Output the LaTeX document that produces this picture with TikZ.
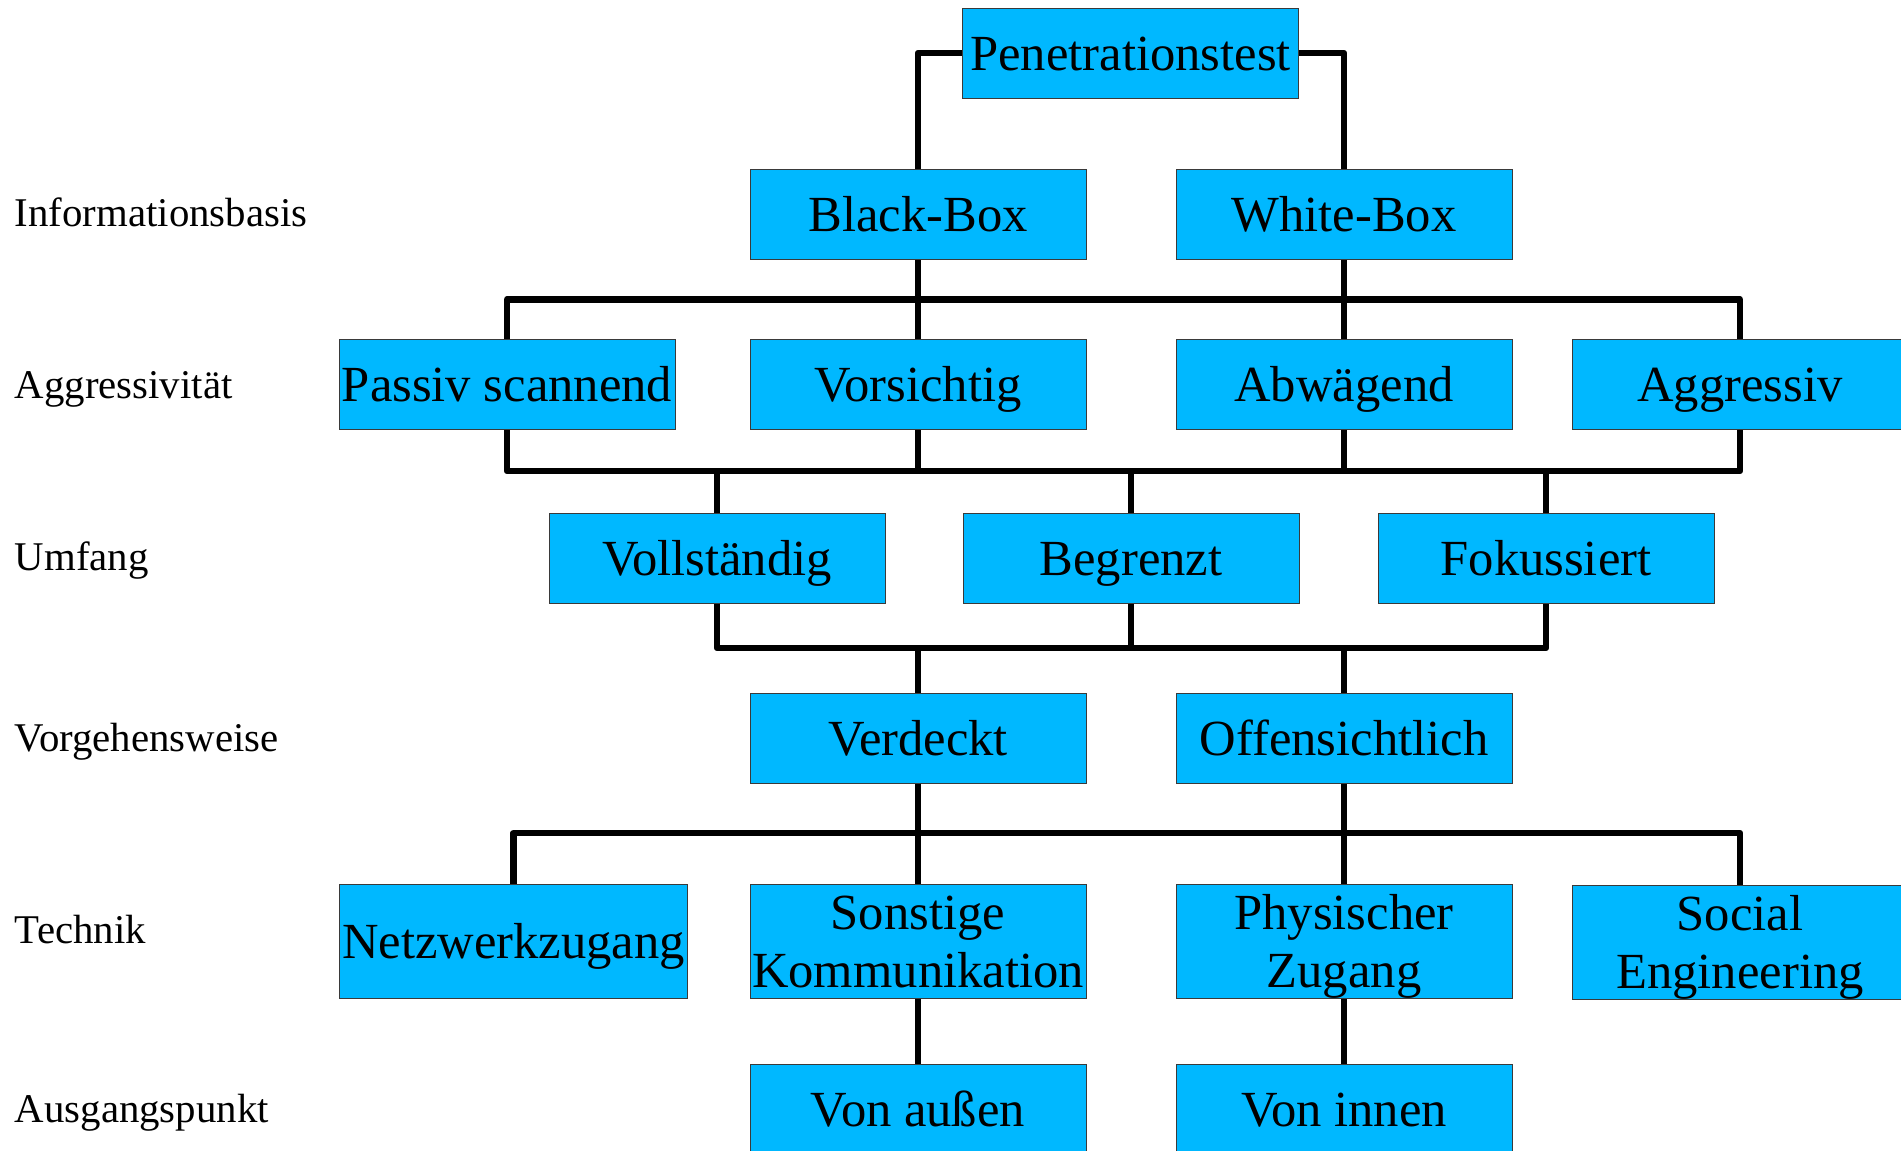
\documentclass[tikz,border=0pt]{standalone}
\usepackage{fontspec}
\setmainfont{Liberation Serif}
\usetikzlibrary{positioning}
\definecolor{boxfill}{HTML}{00B8FF}
\definecolor{boxline}{HTML}{3A3A3A}
\newcommand\twoline[2]{\rule{0pt}{22.3pt}#1\\#2\rule[-5pt]{0pt}{5pt}}
\tikzset{
  link/.style={draw=black,line width=3.25pt,line join=round},
  catbox/.style={draw=boxline,fill=boxfill,line width=0.5pt,inner sep=0pt,minimum width=168pt,minimum height=45pt,text height=22.3pt,text depth=5pt,font=\fontsize{25.3}{28.7}\selectfont,align=center},
  tallbox/.style={catbox,minimum height=57pt,text height={},text depth={}},
  rowlabel/.style={anchor=base west,inner sep=0pt,font=\fontsize{20.4}{24}\selectfont},
}

\begin{document}
\begin{tikzpicture}[x=0.5pt,y=-0.5pt]
\useasboundingbox (0,0) rectangle (1901,1151);

% row labels -------------------------------------------------------------------
\node[rowlabel] (lbinfo) at (14.5,226.5) {Informationsbasis};
\node[rowlabel] (lbaggr) at (14.5,398) {Aggressivität};
\node[rowlabel] (lbumf) at (14.5,570) {Umfang};
\node[rowlabel] (lbvorg) at (14.5,751) {Vorgehensweise};
\node[rowlabel] (lbtech) at (14.5,943) {Technik};
\node[rowlabel] (lbausg) at (14.5,1122) {Ausgangspunkt};

% boxes ------------------------------------------------------------------------
\node[catbox] (pen) at (1130.5,53) {Penetrationstest};

\node[catbox] (blackbox) at (918,214.5) {Black-Box};
\node[catbox] (whitebox) at (1344,214.5) {White-Box};

\node[catbox] (passiv) at (507,384.5) {Passiv scannend};
\node[catbox] (vorsichtig) at (918,384.5) {Vorsichtig};
\node[catbox] (abwaegend) at (1344,384.5) {Abwägend};
\node[catbox] (aggressiv) at (1740,384.5) {Aggressiv};

\node[catbox] (vollst) at (717,558) {Vollständig};
\node[catbox] (begrenzt) at (1131,558) {Begrenzt};
\node[catbox] (fokus) at (1546,558) {Fokussiert};

\node[catbox] (verdeckt) at (918,738) {Verdeckt};
\node[catbox] (offen) at (1344,738) {Offensichtlich};

\node[tallbox,minimum width=174pt,text height=22.3pt,text depth=5pt] (netz) at (513.5,941) {Netzwerkzugang};
\node[tallbox] (sonstige) at (918,941) {\twoline{Sonstige}{Kommunikation}};
\node[tallbox] (physisch) at (1344,941.5) {\twoline{Physischer}{Zugang}};
\node[tallbox] (social) at (1740,942.5) {\twoline{Social}{Engineering}};

\node[catbox] (aussen) at (918,1109) {Von außen};
\node[catbox] (innen) at (1344,1109) {Von innen};

% connectors -------------------------------------------------------------------
\coordinate (bus1) at (0,299.5);
\coordinate (bus2) at (0,471);
\coordinate (bus3) at (0,648);
\coordinate (bus4) at (0,833);

\draw[link] (pen.west) -| (blackbox.north);
\draw[link] (pen.east) -| (whitebox.north);

\draw[link] (passiv.north) |- (aggressiv.north |- bus1) -- (aggressiv.north);
\draw[link] (blackbox.south) -- (vorsichtig.north);
\draw[link] (whitebox.south) -- (abwaegend.north);

\draw[link] (passiv.south) |- (aggressiv.south |- bus2) -- (aggressiv.south);
\foreach \n in {vorsichtig,abwaegend}
  \draw[link] (\n.south) -- (\n.south |- bus2);
\foreach \n in {vollst,begrenzt,fokus}
  \draw[link] (\n.north) -- (\n.north |- bus2);

\draw[link] (vollst.south) |- (fokus.south |- bus3) -- (fokus.south);
\draw[link] (begrenzt.south) -- (begrenzt.south |- bus3);
\foreach \n in {verdeckt,offen}
  \draw[link] (\n.north) -- (\n.north |- bus3);

\draw[link] (netz.north) |- (social.north |- bus4) -- (social.north);
\draw[link] (verdeckt.south) -- (sonstige.north);
\draw[link] (offen.south) -- (physisch.north);

\draw[link] (sonstige.south) -- (aussen.north);
\draw[link] (physisch.south) -- (innen.north);

\end{tikzpicture}
\end{document}
